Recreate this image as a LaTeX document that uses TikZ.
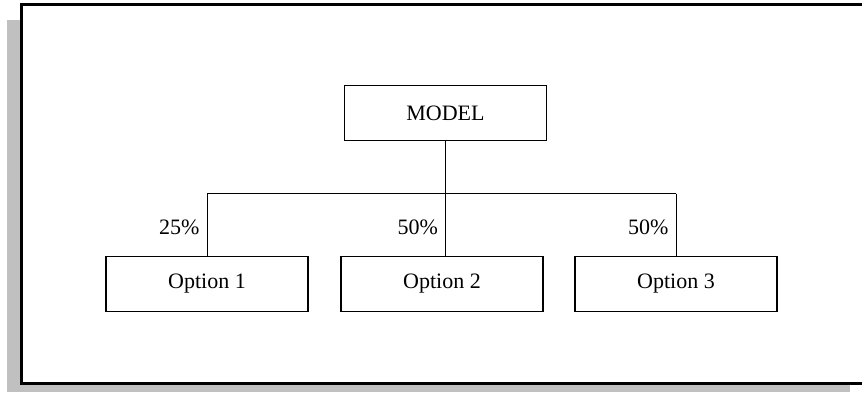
\documentclass[tikz,border=0pt]{standalone}
\usepackage{fontspec}
\setmainfont{Liberation Serif}
\usepackage{tikz}
\usetikzlibrary{positioning, calc}
\usepackage{xcolor}
\definecolor{shadegray}{RGB}{192, 192, 192}

\begin{document}
\begin{tikzpicture}[
        x=0.5pt, y=-0.5pt,
        box/.style={rectangle, draw=black, line width=0.75pt, minimum width=101pt, minimum height=27.5pt, inner sep=0pt, font=\fontsize{11}{13}\selectfont},
        pct/.style={left, font=\fontsize{11}{13}\selectfont, inner sep=3.5pt},
        conn/.style={line width=0.5pt}
      ]
        \useasboundingbox (0,0) rectangle (862,392);
        \clip (0,0) rectangle (862,392);

        \fill[shadegray] (7,20) rectangle (850,392);
        \filldraw[fill=white, draw=black, line width=1.5pt] (21.5,4) rectangle (866,383);

        \node[box] (model) at (445.5,113) {MODEL};
        \node[box] (opt1) at (207,284) {Option 1};
        \node[box] (opt2) at (442,284) {Option 2};
        \node[box] (opt3) at (676,284) {Option 3};

        \coordinate (bus) at (445.5,193.5);

        \draw[conn] (model.south) -- (bus);
        \draw[conn] (opt1.north |- bus) -- (opt3.north |- bus);
        \draw[conn] (opt1.north |- bus) -- node[pct, pos=0.55] {25\%} (opt1.north);
        \draw[conn] (bus) -- node[pct, pos=0.55] {50\%} (bus |- opt2.north);
        \draw[conn] (opt3.north |- bus) -- node[pct, pos=0.55] {50\%} (opt3.north);
      \end{tikzpicture}
\end{document}
